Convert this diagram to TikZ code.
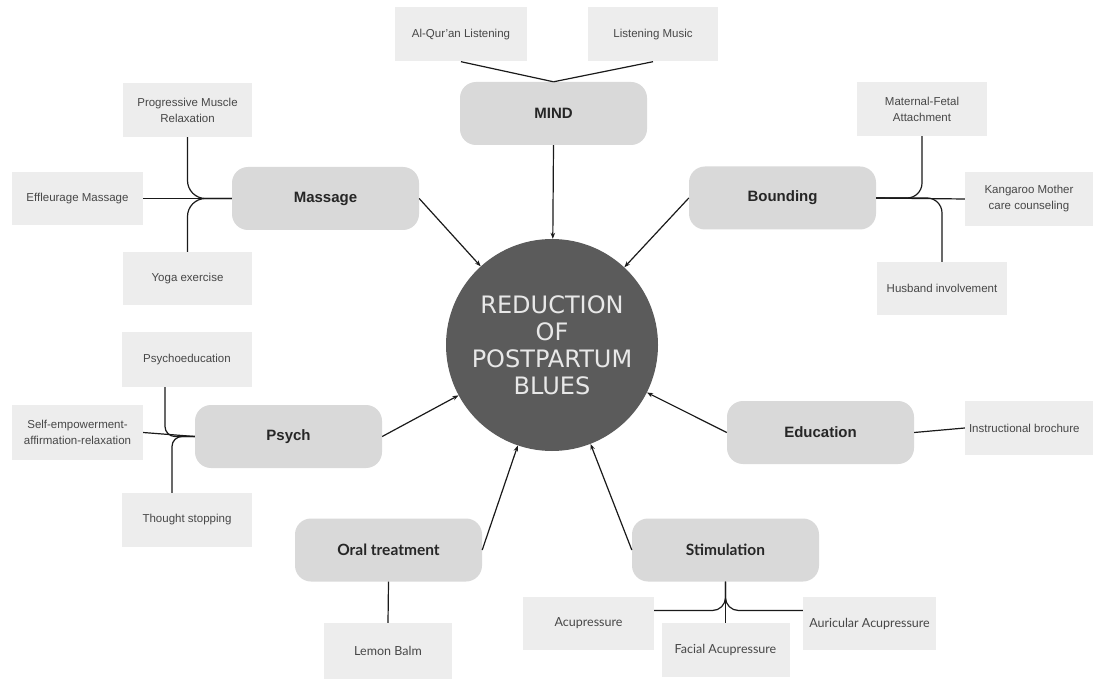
\documentclass[tikz,border=0pt]{standalone}
\usepackage{fontspec}
\setmainfont{Liberation Sans}
\newfontfamily\latofont{Lato}
\newfontfamily\circfont{DejaVu Sans}
\usetikzlibrary{arrows.meta,calc}
\definecolor{catfill}{HTML}{D9D9D9}
\definecolor{leaffill}{HTML}{EDEDED}
\definecolor{circfill}{HTML}{5B5B5B}
\definecolor{circtext}{HTML}{E8E8E8}
\definecolor{linec}{HTML}{1A1A1A}
\begin{document}
\begin{tikzpicture}[x=1pt,y=-1pt,
  cat/.style={fill=catfill, rounded corners=16pt, minimum width=187pt, minimum height=63pt, inner sep=0pt,
    font=\fontsize{15}{18}\selectfont\bfseries, text=black!85},
  catlato/.style={cat, font=\latofont\fontsize{15.5}{18}\selectfont\bfseries},
  leaf/.style={fill=leaffill, minimum width=130pt, minimum height=54pt, inner sep=0pt, align=center,
    font=\fontsize{11.5}{16}\selectfont, text=black!72},
  leaflato/.style={leaf, font=\latofont\fontsize{12.5}{16}\selectfont},
  conn/.style={draw=linec, line width=1.2pt},
  arr/.style={conn, -{Stealth[length=6pt,width=4.5pt]}}
]
\useasboundingbox (0,0) rectangle (1093,679);
\fill[white] (0,0) rectangle (1093,679);

% centre
\node[circle, fill=circfill, minimum size=212pt, inner sep=0pt, align=center, text=circtext,
  font=\circfont\fontsize{24}{27}\selectfont] (circ) at (552,345) {REDUCTION\\OF\\POSTPARTUM\\BLUES};

% categories
\node[cat] (mind) at (553.5,113.5) {MIND};
\node[cat] (massage) at (325.5,198.5) {Massage};
\node[cat] (bounding) at (782.5,198) {Bounding};
\node[cat] (psych) at (288.5,436.5) {Psych};
\node[cat] (educ) at (820.5,432.5) {Education};
\node[catlato] (oral) at (388.5,550) {Oral treatment};
\node[catlato] (stim) at (725.5,550) {Stimulation};

% leaves
\node[leaf, minimum width=132pt] (qur) at (461,34.5) {Al-Qur'an Listening};
\node[leaf] (music) at (653,34.5) {Listening Music};
\node[leaf, minimum width=129pt] (pmr) at (187.5,110) {Progressive Muscle\\Relaxation};
\node[leaf, minimum width=131pt, minimum height=53pt] (eff) at (77.5,198.5) {Effleurage Massage};
\node[leaf, minimum width=129pt, minimum height=53pt] (yoga) at (187.5,278.5) {Yoga exercise};
\node[leaf] (mfa) at (922,109) {Maternal-Fetal\\Attachment};
\node[leaf, minimum width=128pt] (kang) at (1029,199) {Kangaroo Mother\\care counseling};
\node[leaf, minimum height=53pt] (husb) at (942,288.5) {Husband involvement};
\node[leaf, minimum height=55pt] (psyed) at (187,359.5) {Psychoeducation};
\node[leaf, minimum width=131pt, minimum height=55pt] (selfemp) at (77.5,432.5) {Self-empowerment-\\affirmation-relaxation};
\node[leaf] (thought) at (187,520) {Thought stopping};
\node[leaf, minimum width=128pt] (instr) at (1029,428) {};
\node[anchor=west, inner sep=0pt, font=\fontsize{11.5}{14}\selectfont, text=black!72] (instrtxt) at ($(instr.west)+(4,0)$) {Instructional brochure};
\node[leaflato, minimum width=128pt, minimum height=56pt] (lemon) at (388,651) {Lemon Balm};
\node[leaflato, minimum width=131pt, minimum height=53pt] (acu) at (588.5,623.5) {Acupressure};
\node[leaflato, minimum width=128pt] (facial) at (725.5,650) {Facial Acupressure};
\node[leaflato, minimum width=133pt, minimum height=53pt] (auric) at (869.5,623.5) {Auricular Acupressure};

% arrows to centre
\draw[arr] (mind.south) -- (circ);
\draw[arr] (massage.east) -- (circ);
\draw[arr] (bounding.west) -- (circ);
\draw[arr] (psych.east) -- (circ);
\draw[arr] (educ.west) -- (circ);
\draw[arr] (oral.east) -- (circ);
\draw[arr] (stim.west) -- (circ);

% MIND
\draw[conn] (qur.south) -- (mind.north);
\draw[conn] (music.south) -- (mind.north);

% Massage
\draw[conn] (eff.east) -- (massage.west);
\draw[conn, rounded corners=18pt] (pmr.south) |- (massage.west);
\draw[conn, rounded corners=18pt] (yoga.north) |- (massage.west);

% Bounding
\draw[conn] (bounding.east) -- (kang.west);
\draw[conn, rounded corners=15pt] (mfa.south) |- (bounding.east);
\draw[conn, rounded corners=15pt] (husb.north) |- (bounding.east);

% Psych
\draw[conn] (selfemp.east) -- (psych.west);
\draw[conn, rounded corners=10pt] ($(psyed.south)+(-22,0)$) |- (psych.west);
\draw[conn, rounded corners=10pt] ($(thought.north)+(-15,0)$) |- (psych.west);

% Education
\draw[conn] (educ.east) -- (instr.west);

% Oral treatment
\draw[conn] (oral.south) -- (lemon.north);

% Stimulation
\draw[conn] (stim.south) -- (facial.north);
\draw[conn, rounded corners=13pt] (stim.south) |- ($(acu.east)+(0,-13)$);
\draw[conn, rounded corners=13pt] (stim.south) |- ($(auric.west)+(0,-13)$);
\end{tikzpicture}
\end{document}
